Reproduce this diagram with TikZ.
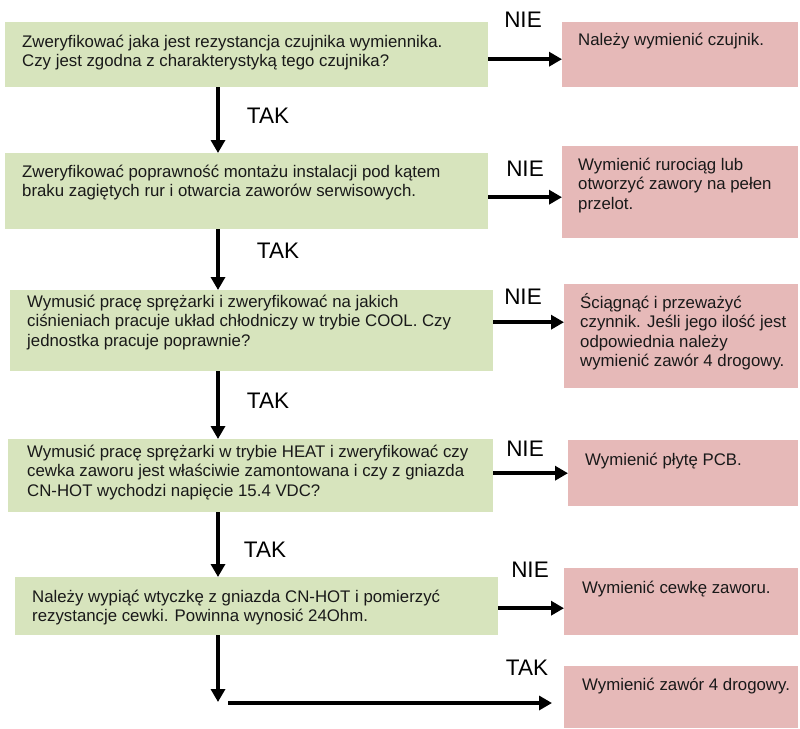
\documentclass[tikz,border=0pt]{standalone}
\usepackage{fontspec}
\setmainfont{Liberation Sans}
\usetikzlibrary{arrows.meta}

\definecolor{qgreen}{RGB}{215,228,189}
\definecolor{qred}{RGB}{230,185,184}

\tikzstyle{greenbox} = [fill=qgreen, rectangle, anchor=north west, inner sep=0pt]
\tikzstyle{redbox} = [fill=qred, rectangle, anchor=north west, inner sep=0pt]
\tikzstyle{boxtext} = [anchor=base west, inner sep=0pt, align=left, text=black!90, font=\fontsize{16.8}{19.5}\selectfont]
\tikzstyle{answer} = [inner sep=0pt, font=\fontsize{22.5}{26}\selectfont]
\tikzstyle{arrow} = [line width=4.5pt, -{Triangle[length=13pt,width=14pt]}]

\begin{document}
\begin{tikzpicture}[x=1pt, y=-1pt]
\useasboundingbox (0,0) rectangle (800,728);

\node[greenbox, minimum width=483pt, minimum height=65pt] (q1) at (5,22) {};
\node[redbox, minimum width=236pt, minimum height=65pt] (r1) at (562,22) {};
\node[greenbox, minimum width=483pt, minimum height=76pt] (q2) at (5,153) {};
\node[redbox, minimum width=236pt, minimum height=92pt] (r2) at (562,146) {};
\node[greenbox, minimum width=483pt, minimum height=81pt] (q3) at (10,290) {};
\node[redbox, minimum width=234pt, minimum height=104pt] (r3) at (564,284) {};
\node[greenbox, minimum width=485pt, minimum height=73pt] (q4) at (8,439) {};
\node[redbox, minimum width=230pt, minimum height=66pt] (r4) at (568,440) {};
\node[greenbox, minimum width=483pt, minimum height=58pt] (q5) at (15,577) {};
\node[redbox, minimum width=234pt, minimum height=67pt] (r5) at (564,568) {};
\node[redbox, minimum width=234pt, minimum height=62pt] (r6) at (564,666) {};

% multi-line texts sit on the baseline of their last line
\node[boxtext] (t1) at (22,66.5) {Zweryfikować jaka jest rezystancja czujnika wymiennika.\\Czy jest zgodna z charakterystyką tego czujnika?};
\node[boxtext] (t2) at (22,196.5) {Zweryfikować poprawność montażu instalacji pod kątem\\braku zagiętych rur i otwarcia zaworów serwisowych.};
\node[boxtext] (t3) at (27,346) {Wymusić pracę sprężarki i zweryfikować na jakich\\ciśnieniach pracuje układ chłodniczy w trybie COOL. Czy\\jednostka pracuje poprawnie?};
\node[boxtext] (t4) at (27,496) {Wymusić pracę sprężarki w trybie HEAT i zweryfikować czy\\cewka zaworu jest właściwie zamontowana i czy z gniazda\\CN-HOT wychodzi napięcie 15.4 VDC?};
\node[boxtext] (t5) at (32,621.5) {Należy wypiąć wtyczkę z gniazda CN-HOT i pomierzyć\\rezystancje cewki. Powinna wynosić 24Ohm.};

\node[boxtext] (s1) at (578,45) {Należy wymienić czujnik.};
\node[boxtext] (s2) at (578,209) {Wymienić rurociąg lub\\otworzyć zawory na pełen\\przelot.};
\node[boxtext] (s3) at (580,366.5) {Ściągnąć i przeważyć\\czynnik. Jeśli jego ilość jest\\odpowiednia należy\\wymienić zawór 4 drogowy.};
\node[boxtext] (s4) at (585,465) {Wymienić płytę PCB.};
\node[boxtext] (s5) at (582,593) {Wymienić cewkę zaworu.};
\node[boxtext] (s6) at (582,690) {Wymienić zawór 4 drogowy.};

\node[answer] (n1) at (523,20) {NIE};
\node[answer] (n2) at (525,169) {NIE};
\node[answer] (n3) at (523,297) {NIE};
\node[answer] (n4) at (525,449) {NIE};
\node[answer] (n5) at (530,570) {NIE};
\node[answer] (y1) at (268,116) {TAK};
\node[answer] (y2) at (278,251) {TAK};
\node[answer] (y3) at (268,401) {TAK};
\node[answer] (y4) at (265,550) {TAK};
\node[answer] (y5) at (527,668) {TAK};

\coordinate (spine) at (218,0);
\coordinate (low) at (218,702);
\coordinate (last) at (228,703);

\draw[arrow] (q1.south -| spine) -- (q2.north -| spine);
\draw[arrow] (q2.south -| spine) -- (q3.north -| spine);
\draw[arrow] (q3.south -| spine) -- (q4.north -| spine);
\draw[arrow] (q4.south -| spine) -- (q5.north -| spine);
\draw[arrow] (q5.south -| spine) -- (low);

\draw[arrow] ([yshift=-4.5pt]q1.east) -- ([yshift=-4.5pt]q1.east -| r1.west);
\draw[arrow] ([yshift=-6pt]q2.east) -- ([yshift=-6pt]q2.east -| r2.west);
\draw[arrow] ([yshift=8.5pt]q3.east) -- ([yshift=8.5pt]q3.east -| r3.west);
\draw[arrow] ([yshift=2.5pt]q4.east) -- ([yshift=2.5pt]q4.east -| r4.west);
\draw[arrow] ([yshift=-2pt]q5.east) -- ([yshift=-2pt]q5.east -| r5.west);
\draw[arrow, shorten >=12pt] (last) -- (last -| r6.west);
\end{tikzpicture}
\end{document}
